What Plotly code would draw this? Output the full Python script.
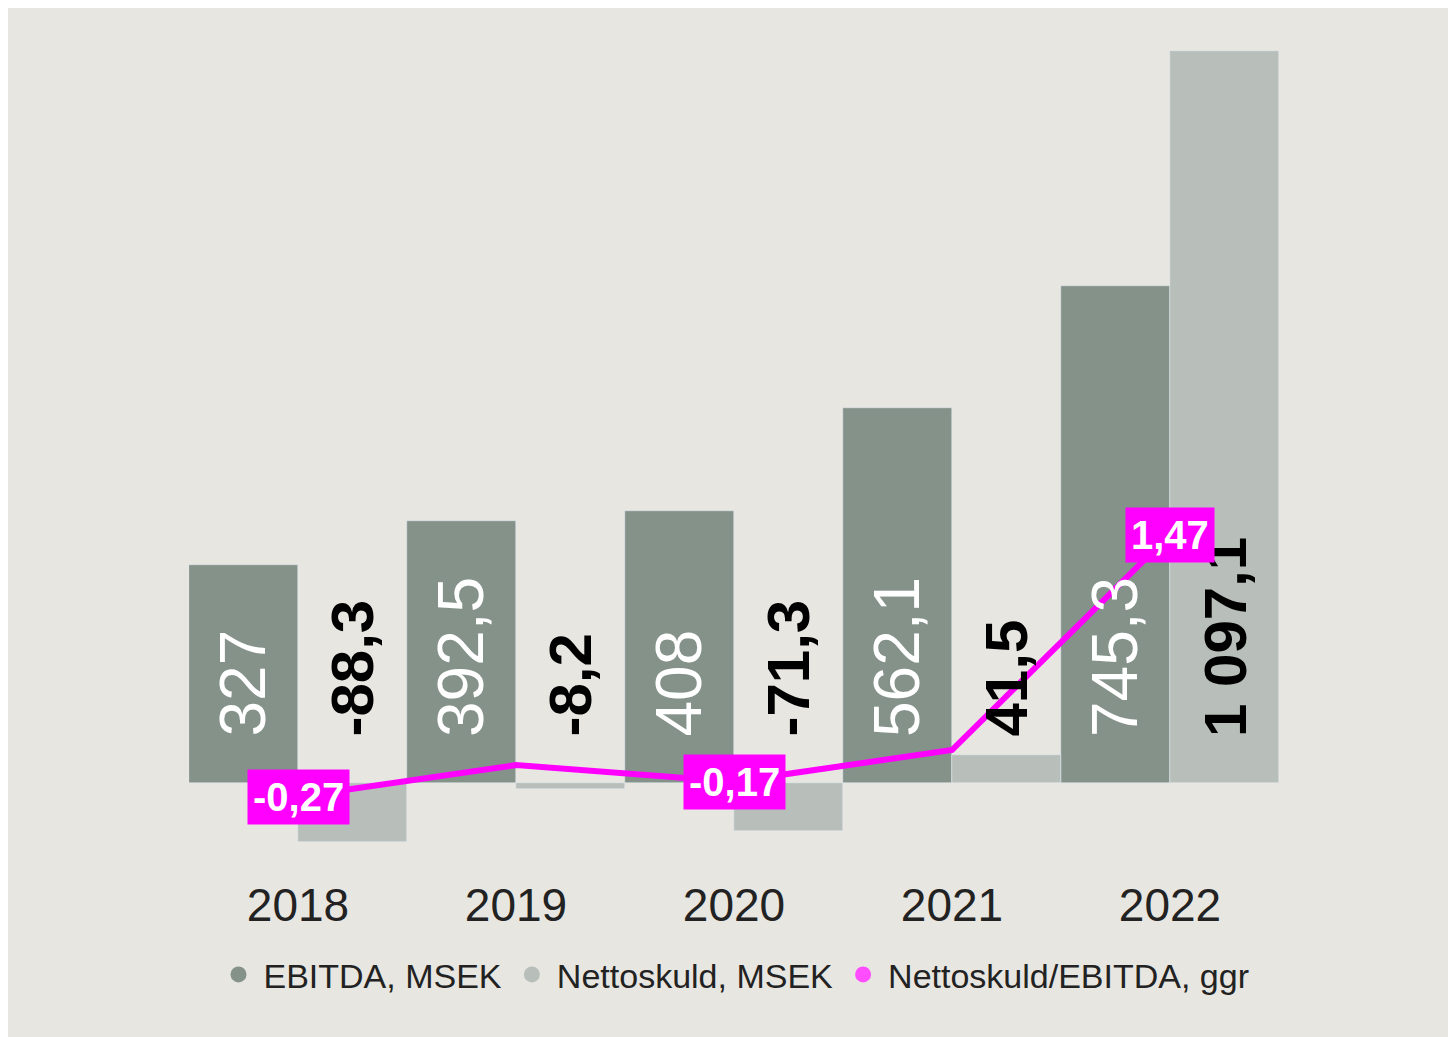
import plotly.graph_objects as go

years = ["2018", "2019", "2020", "2021", "2022"]
ebitda = [327, 392.5, 408, 562.1, 745.3]
netto = [-88.3, -8.2, -71.3, 41.5, 1097.1]
ratio = [-0.27, -0.06, -0.17, 0.04, 1.47]
ebitda_lbl = ["327", "392,5", "408", "562,1", "745,3"]
netto_lbl = ["-88,3", "-8,2", "-71,3", "41,5", "1 097,1"]
ratio_lbl = ["-0,27", "", "-0,17", "", "1,47"]

dark = "#84928A"
light = "#B8BFBA"
pink = "#FF00FF"
bg = "#E8E6E1"

fig = go.Figure()
fig.add_trace(go.Bar(x=years, y=ebitda, marker_color=dark, showlegend=False))
fig.add_trace(go.Bar(x=years, y=netto, marker_color=light, showlegend=False))
fig.add_trace(go.Scatter(x=years, y=ratio, yaxis="y2", mode="lines",
                         line=dict(color=pink, width=6), showlegend=False))

# legend entries with circle markers
for name, col in [("EBITDA, MSEK", dark), ("Nettoskuld, MSEK", light),
                  ("Nettoskuld/EBITDA, ggr", "#FF4DFF")]:
    fig.add_trace(go.Scatter(x=[None], y=[None], mode="markers", name=name,
                             marker=dict(color=col, size=32, symbol="circle")))

font = "Liberation Sans"
for i, y in enumerate(years):
    fig.add_annotation(x=i, y=0, text=ebitda_lbl[i], textangle=-90, showarrow=False,
                       xref="x", yref="y", xshift=-55, yanchor="bottom", yshift=44,
                       font=dict(family=font, size=64, color="white"))
    fig.add_annotation(x=i, y=0, text="<b>" + netto_lbl[i] + "</b>", textangle=-90,
                       showarrow=False, xref="x", yref="y", xshift=55, yanchor="bottom",
                       yshift=44, font=dict(family=font, size=60, color="black"))
    if ratio_lbl[i]:
        fig.add_annotation(x=i, y=ratio[i], text="<b>" + ratio_lbl[i] + "</b>",
                           showarrow=False, xref="x", yref="y2", bgcolor=pink,
                           borderpad=5, font=dict(family=font, size=40, color="white"))

fig.update_layout(
    width=1456, height=1037,
    paper_bgcolor=bg, plot_bgcolor=bg,
    margin=dict(l=181, r=185, t=32, b=185),
    barmode="group", bargap=0, bargroupgap=0,
    xaxis=dict(tickfont=dict(family=font, size=46, color="#222"), showgrid=False,
               ticks="", ticklabelstandoff=14),
    yaxis=dict(range=[-115.4, 1114], visible=False, showgrid=False, zeroline=False),
    yaxis2=dict(range=[-0.69, 4.754], overlaying="y", visible=False, showgrid=False,
                zeroline=False),
    legend=dict(orientation="h", x=0.5, xanchor="center", y=-0.14, yanchor="middle",
                font=dict(family=font, size=34, color="#222"), itemwidth=40),
)

fig.write_html("out.html")
